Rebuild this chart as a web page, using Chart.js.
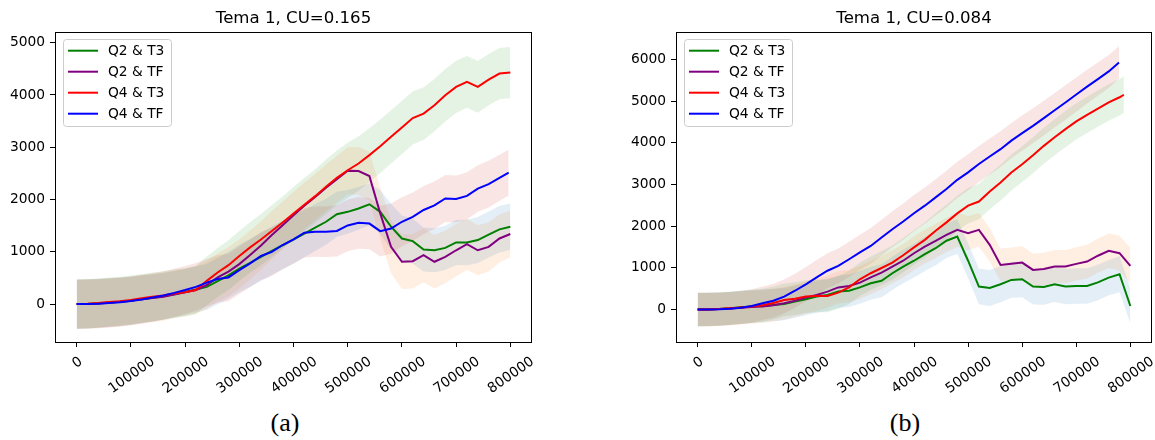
<!DOCTYPE html>
<html>
<head>
<meta charset="utf-8">
<script src="https://cdn.jsdelivr.net/npm/chart.js@4.4.0/dist/chart.umd.min.js"></script>
<style>
body { margin: 0; width: 1155px; height: 440px; overflow: hidden; background: #fff; position: relative; }
.wrap { position: absolute; top: 0; height: 400px; }
.cap { position: absolute; top: 410px; font: 26px "Liberation Serif"; line-height: 26px; transform: translateX(-50%); color: #000; }
</style>
</head>
<body>
<div class="wrap" style="left:0;width:587px"><canvas id="ca" width="587" height="400"></canvas></div>
<div class="wrap" style="left:620px;width:588px"><canvas id="cb" width="588" height="400"></canvas></div>
<div class="cap" style="left:285px">(a)</div>
<div class="cap" style="left:905px">(b)</div>
<script>
// series names, line colours, band colours (default cycle, light alpha)
var names = ['Q2 & T3', 'Q2 & TF', 'Q4 & T3', 'Q4 & TF'];
var lineColors = ['green', 'purple', 'red', 'blue'];
var bandColors = ['rgba(31,119,180,0.12)', 'rgba(255,127,14,0.12)', 'rgba(44,160,44,0.12)', 'rgba(214,39,40,0.12)'];

var xTicks = [0, 100000, 200000, 300000, 400000, 500000, 600000, 700000, 800000];
var yTicksA = [0, 1000, 2000, 3000, 4000, 5000];
var yTicksB = [0, 1000, 2000, 3000, 4000, 5000, 6000];

var steps = [0, 20000, 40000, 60000, 80000, 100000, 120000, 140000, 160000, 180000,
  200000, 220000, 240000, 260000, 280000, 300000, 320000, 340000, 360000, 380000,
  400000, 420000, 440000, 460000, 480000, 500000, 520000, 540000, 560000, 580000,
  600000, 620000, 640000, 660000, 680000, 700000, 720000, 740000, 760000, 780000, 800000];

// (a) Tema 1, CU=0.165
var a_q2t3 = [0,3,15,30,45,65,95,120,150,190,230,280,330,440,550,680,790,905,1020,1130,1235,1350,1465,1575,1720,1765,1830,1910,1765,1480,1255,1205,1045,1030,1075,1180,1180,1225,1330,1430,1480];
var a_q2tf = [0,3,12,28,45,65,95,115,140,185,225,270,365,510,620,765,940,1120,1320,1510,1700,1880,2050,2225,2390,2550,2545,2450,1735,1095,810,820,935,810,905,1030,1145,1030,1095,1255,1340];
var a_q4t3 = [0,5,20,40,55,80,110,140,165,205,225,270,445,605,745,920,1085,1235,1400,1560,1735,1900,2065,2245,2415,2560,2690,2850,3020,3200,3380,3560,3645,3805,3995,4155,4250,4155,4295,4410,4430];
var a_q4tf = [0,2,8,20,35,60,90,125,165,215,270,330,410,480,510,650,780,920,1000,1130,1240,1365,1385,1385,1400,1505,1555,1540,1395,1445,1575,1670,1800,1890,2020,2010,2070,2210,2295,2415,2515];
var sdA_q2t3 = [470,470,468,466,463,460,456,452,448,445,442,440,440,445,450,455,460,462,465,465,460,455,450,440,430,420,410,400,420,440,440,430,420,420,425,430,435,440,440,445,445];
var sdA_q2tf = [470,470,469,468,466,464,462,460,458,456,455,455,460,465,470,470,470,465,460,455,450,448,445,445,450,455,460,470,490,510,520,520,515,510,505,500,490,480,470,460,450];
var sdA_q4t3 = [470,470,470,470,469,468,467,466,465,464,463,462,465,470,475,480,485,490,495,500,505,510,515,520,525,525,520,515,510,510,510,505,505,500,500,500,495,495,490,490,490];
var sdA_q4tf = [470,470,469,468,467,466,465,463,461,460,458,456,455,455,455,455,458,460,462,465,470,475,480,485,490,495,495,490,485,480,470,465,460,455,450,450,450,445,445,440,440];
var lastA = [800000, 800000, 800000, 797000];

// (b) Tema 1, CU=0.084
var b_q2t3 = [0,2,15,30,55,70,90,110,130,190,245,310,350,430,450,530,630,690,870,1030,1170,1330,1470,1650,1750,1170,550,515,605,710,725,550,540,605,550,565,565,650,765,845,85];
var b_q2tf = [0,0,10,25,45,60,70,100,150,210,285,350,430,530,565,645,770,885,1030,1170,1350,1510,1645,1790,1910,1830,1910,1550,1070,1095,1125,950,970,1030,1030,1095,1150,1290,1410,1350,1045];
var b_q4t3 = [0,0,10,30,50,75,100,155,230,260,310,325,325,405,530,725,870,995,1125,1300,1490,1670,1890,2090,2305,2490,2590,2830,3045,3285,3485,3700,3925,4130,4325,4510,4670,4820,4965,5090,5150];
var b_q4tf = [0,0,5,20,45,85,150,210,310,450,605,770,930,1045,1205,1370,1525,1725,1925,2110,2310,2490,2690,2890,3110,3290,3490,3670,3845,4050,4230,4405,4590,4780,4965,5155,5345,5525,5710,5925,null];
var sdB_q2t3 = [400,400,400,398,396,394,392,390,388,386,385,385,386,388,390,392,395,398,400,402,405,408,410,412,415,420,425,430,430,430,430,428,425,425,425,425,425,425,425,430,420];
var sdB_q2tf = [400,400,400,398,396,394,392,390,388,386,385,385,386,388,390,392,395,398,400,402,405,408,410,410,410,410,405,400,395,390,390,390,392,395,398,400,405,410,415,420,430];
var sdB_q4t3 = [400,400,400,399,398,397,396,395,394,393,392,392,393,395,398,400,403,406,410,412,415,418,420,422,425,425,425,425,428,430,430,430,432,432,435,435,435,438,440,440,440];
var sdB_q4tf = [400,400,400,400,401,402,404,406,408,410,412,415,418,420,423,425,428,430,432,435,435,435,435,435,435,435,432,430,428,425,422,420,418,415,412,410,405,400,395,390,null];
var lastB = [800000, 800000, 788000, 779000];

var FONT = 'DejaVu Sans';

function pts(vals, sd, sign, last) {
	var out = [];
	vals.forEach(function(v, i) {
		if (v === null) return;
		out.push({ x: Math.min(steps[i], last), y: sd ? v + sign * sd[i] : v });
	});
	return out;
}

function roundBox(ctx, x, y, w, h, r) {
	ctx.beginPath();
	ctx.moveTo(x + r, y);
	ctx.lineTo(x + w - r, y);
	ctx.arcTo(x + w, y, x + w, y + r, r);
	ctx.lineTo(x + w, y + h - r);
	ctx.arcTo(x + w, y + h, x + w - r, y + h, r);
	ctx.lineTo(x + r, y + h);
	ctx.arcTo(x, y + h, x, y + h - r, r);
	ctx.lineTo(x, y + r);
	ctx.arcTo(x, y, x + r, y, r);
	ctx.closePath();
}

// box round the axes, title, rotated x tick labels and the legend
var frame = {
	id: 'frame',
	afterDraw: function(chart) {
		var ctx = chart.ctx, a = chart.chartArea, x = chart.scales.x;
		ctx.save();
		ctx.strokeStyle = '#000';
		ctx.lineWidth = 1;
		ctx.strokeRect(Math.round(a.left) + 0.5, Math.round(a.top) + 0.5, Math.round(a.width) - 1, Math.round(a.height));

		ctx.fillStyle = '#000';
		ctx.textBaseline = 'alphabetic';
		ctx.textAlign = 'center';
		ctx.font = '16.6px "' + FONT + '"';
		ctx.fillText(chart.options.plugins.frame.title, (a.left + a.right) / 2, 23);

		var th = 35 * Math.PI / 180, g = 10;
		ctx.font = '13.8px "' + FONT + '"';
		xTicks.forEach(function(v) {
			var label = String(v);
			var L = ctx.measureText(label).width;
			var h = L * Math.sin(th) + g * Math.cos(th);
			ctx.save();
			ctx.translate(x.getPixelForValue(v), a.bottom + 13 + h / 2);
			ctx.rotate(-th);
			ctx.fillText(label, 0, g / 2);
			ctx.restore();
		});

		// legend, upper left inside the axes
		var lx = Math.round(a.left) + 8, ly = Math.round(a.top) + 7;
		roundBox(ctx, lx + 0.5, ly + 0.5, 108, 87, 3);
		ctx.fillStyle = 'rgba(255,255,255,0.8)';
		ctx.fill();
		ctx.strokeStyle = '#cccccc';
		ctx.stroke();
		ctx.textAlign = 'left';
		ctx.textBaseline = 'middle';
		names.forEach(function(n, s) {
			var ry = ly + 11.7 + 21 * s;
			ctx.strokeStyle = lineColors[s];
			ctx.lineWidth = 2;
			ctx.beginPath();
			ctx.moveTo(lx + 5, ry);
			ctx.lineTo(lx + 35, ry);
			ctx.stroke();
			ctx.fillStyle = '#000';
			ctx.fillText(n, lx + 45, ry + 0.5);
		});
		ctx.restore();
	}
};

function makeChart(id, vals, sds, last, yMin, yMax, yTicks, title, axisW) {
	var datasets = [];
	vals.forEach(function(v, s) {
		datasets.push({ data: pts(v, sds[s], -1, last[s]), borderWidth: 0, borderColor: 'rgba(0,0,0,0)', pointRadius: 0, fill: false, order: 10 });
		datasets.push({ data: pts(v, sds[s], 1, last[s]), borderWidth: 0, borderColor: 'rgba(0,0,0,0)', pointRadius: 0, fill: 2 * s, backgroundColor: bandColors[s], order: 10 });
	});
	vals.forEach(function(v, s) {
		datasets.push({ label: names[s], data: pts(v, null, 0, last[s]), borderColor: lineColors[s], borderWidth: 2, pointRadius: 0, fill: false, order: 3 - s });
	});

	var tickGrid = { drawOnChartArea: false, drawTicks: true, tickLength: 5, color: '#000', lineWidth: 1 };

	return new Chart(document.getElementById(id).getContext('2d'), {
		type: 'line',
		data: { datasets: datasets },
		options: {
			responsive: false,
			animation: false,
			layout: { padding: { left: 0, right: axisW, top: 32, bottom: 0 } },
			plugins: {
				legend: { display: false },
				tooltip: { enabled: false },
				title: { display: false },
				frame: { title: title }
			},
			scales: {
				x: {
					type: 'linear', min: -40000, max: 840000,
					afterBuildTicks: function(sc) { sc.ticks = xTicks.map(function(v) { return { value: v }; }); },
					afterFit: function(sc) { sc.height = 58; },
					ticks: { display: false },
					grid: tickGrid,
					border: { display: false }
				},
				y: {
					min: yMin, max: yMax,
					afterBuildTicks: function(sc) { sc.ticks = yTicks.map(function(v) { return { value: v }; }); },
					afterFit: function(sc) { sc.width = axisW; },
					ticks: { color: '#000', padding: 5, font: { family: FONT, size: 13.8 }, callback: function(v) { return String(v); } },
					grid: tickGrid,
					border: { display: false }
				}
			}
		},
		plugins: [frame]
	});
}

makeChart('ca', [a_q2t3, a_q2tf, a_q4t3, a_q4tf], [sdA_q2t3, sdA_q2tf, sdA_q4t3, sdA_q4tf], lastA, -725, 5205, yTicksA, 'Tema 1, CU=0.165', 55);
makeChart('cb', [b_q2t3, b_q2tf, b_q4t3, b_q4tf], [sdB_q2t3, sdB_q2tf, sdB_q4t3, sdB_q4tf], lastB, -779, 6655, yTicksB, 'Tema 1, CU=0.084', 56);
</script>
</body>
</html>
